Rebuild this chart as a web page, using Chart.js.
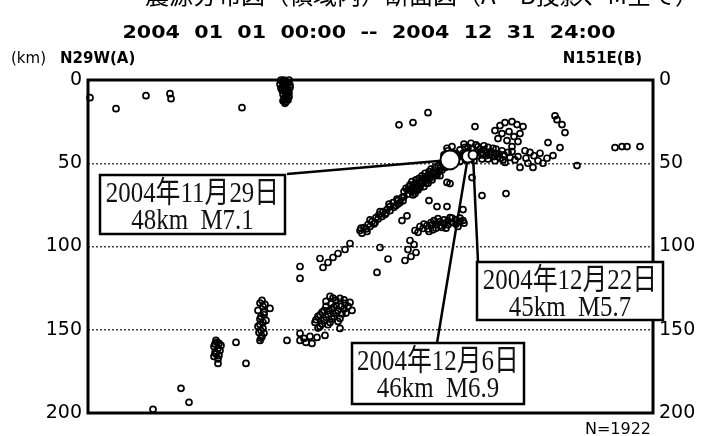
<!DOCTYPE html>
<html>
<head>
<meta charset="utf-8">
<script src="https://cdn.jsdelivr.net/npm/chart.js@4.4.0/dist/chart.umd.min.js"></script>
<style>
  html, body { margin: 0; padding: 0; background: #fff; }
  #wrap { width: 702px; height: 436px; }
</style>
</head>
<body>
<div id="wrap"><canvas id="profile" width="702" height="436"></canvas></div>
<script>
// A-B cross section: [distance from A (km), depth (km)]
const shallowQuakes = [
  [1, 10.6], [14, 17.2], [29, 9.4], [41, 8.2], [41.5, 11.2], [77, 16.6],
  [98, 0], [99, 1], [97, 1], [100, 1.5], [98.5, 2], [98, 3], [97.5, 4], [99.5, 4],
  [98.5, 5], [100, 6], [98, 6.5], [99, 7.5], [99.5, 9], [98.5, 10], [100.5, 10],
  [98, 11.5], [99, 13], [98.5, 14], [96.5, 0], [100.5, 0], [101, 3], [96, 2.5],
  [97, 6], [100.5, 7.5], [97.5, 8.5], [100, 12], [97.5, 12.5], [99.5, 11], [101, 4.5],
  [96.5, 5]
];

const upperQuakes = [
  [155.5, 26.9], [162.5, 25.6], [170, 19.6], [193.5, 28],
  [206, 27.4], [208.5, 25.6], [212, 25], [214.5, 26.8], [203.5, 30.4], [207, 32.2],
  [210.5, 31], [213, 34], [205, 35.2], [209.5, 36.4], [215, 37], [212, 40], [216, 32.2],
  [217.5, 28], [233.5, 21.5], [234.5, 23.8], [237, 26.8], [238.5, 31.6],
  [230, 37.6], [236, 40.6], [232.5, 45.4], [244.5, 51.4],
  [263.5, 40.6], [267, 40], [269.5, 40], [276, 40]
];

const slabTopQuakes = [
  [184, 44], [186, 42], [187, 46], [188.5, 40.5], [190, 43], [192, 41], [194, 43.5],
  [195, 40], [196.5, 44], [198, 42], [199, 45.5], [200, 40.5], [201.5, 43], [203, 46],
  [204, 41.5], [205.5, 44.5], [206, 47], [197, 47.5], [193, 48.5], [189, 48], [186, 49],
  [183.5, 45], [188, 38.5], [191.5, 38], [180, 42.5], [178, 45], [182, 40], [179.5, 41],
  [183, 47], [185, 45.5], [187.5, 44], [189.5, 45.5], [191, 44.5], [193, 46], [195, 45.5],
  [197.5, 45], [199.5, 43.5], [201, 45], [202.5, 41], [204, 44], [205, 46], [207, 42.5],
  [208, 45], [210, 43.5], [211, 46.5], [190, 40.5], [194, 39], [198, 39.5], [196, 41.5],
  [200, 47.5], [203.5, 48.5], [207.5, 48],
  [208.5, 49.5], [212, 43], [215, 46], [218.5, 42.5], [221, 43.5], [219, 47], [223, 45.5],
  [225, 48.5], [227.5, 50], [216, 52.5], [222.5, 52.5], [220, 50], [226, 44], [229.5, 47],
  [213.5, 48]
];

const band1Quakes = [
  [161, 63], [162, 61], [163.5, 62.5], [164, 60], [165.5, 59], [166, 61], [167, 57.5],
  [168.5, 56], [169, 58.5], [170.5, 55], [171.5, 53.5], [172.5, 55.5], [173.5, 52.5],
  [175, 51.5], [176, 53], [177, 50], [178, 51.5], [179, 49], [162.5, 64.5], [160.5, 64],
  [164.5, 63], [167.5, 59.5], [170, 57.5],
  [159, 65], [160, 66], [161.5, 65.5], [163, 65], [165, 64], [166.5, 62.5], [168, 61],
  [169.5, 60], [171, 59], [172.5, 58], [174, 56.5], [175.5, 55], [177, 54], [178.5, 52.5],
  [180, 51], [172, 60], [169, 62], [165, 66], [176, 57.5], [162, 67],
  [158, 67], [160, 68.5], [162.5, 69], [164, 66.5], [166, 64.5], [168, 64], [170, 62],
  [174.5, 57.4], [181, 62.2], [163.5, 68.2], [192, 58.6], [197, 69.4], [209, 68.2],
  [179.5, 61.5], [170.5, 72.4], [174.5, 76], [179.5, 76], [187.5, 77.8]
];

const band2Quakes = [
  [157, 70.6], [155, 72.4], [152.5, 73.6], [151, 76], [149.5, 77.8], [147.5, 79],
  [145.5, 80.8], [144, 82.6], [142, 85], [140, 86.8], [138, 88.6], [136, 90.4],
  [139.5, 91], [143.5, 85.6], [148.5, 80.8], [154, 75.4], [156, 73.6],
  [137, 92], [139, 89.5], [141, 88], [143, 86.5], [145, 83.5], [147, 82], [149, 80],
  [151, 78.5], [153, 76.5], [155, 74.5], [157.5, 72.5], [158, 70], [136.5, 89], [141, 84],
  [146, 79], [150.5, 74.5], [154.5, 71.5],
  [159.5, 81.6], [157, 84.4]
];

const band3Quakes = [
  [167.5, 89.2], [169.5, 87.4], [171.5, 85.6], [174, 86.8], [176, 85], [178, 86.2],
  [180, 84.4], [182, 85.6], [184, 83.8], [186, 85], [172.5, 90], [177, 88.6],
  [170.5, 91], [175, 83.2], [181, 82.6], [187.5, 84.4], [163.5, 90.4],
  [168, 86.5], [170, 89.5], [172, 87], [174, 89], [176, 87.5], [178, 84], [180, 87],
  [182, 83], [184, 86.5], [186, 83], [188, 86], [185, 88], [173, 84.5], [179, 89],
  [166, 88], [165, 91.5]
];

const midQuakes = [
  [131, 98.2], [146, 100.6], [161, 96.4], [163, 98.8], [160, 101.8], [164, 103.6],
  [161.5, 106], [150, 107.5], [158.5, 108.4], [125, 104.2], [128.5, 101.8],
  [116, 107.2], [120, 109.6], [117.5, 112.6], [122.5, 106.6], [106, 112], [106, 119.2],
  [144.5, 115.6]
];

const deepQuakes = [
  [87, 132.4], [88.5, 134.8], [85, 138.4], [88, 139.6], [86.5, 142], [89, 144.4],
  [86, 146.8], [87.5, 149.2], [85.5, 151.6], [87, 154], [86, 156.4], [91, 137.2],
  [86, 134], [87.5, 136], [88, 141], [86, 143.5], [87.5, 145.5], [86.5, 150.5],
  [88, 152], [85, 148], [86.5, 155],
  [121, 130], [124, 132.4], [126, 131.2], [128.5, 134.2], [131, 133.6], [119, 136],
  [122, 137.2], [125, 138.4], [117, 139.6], [120, 140.8], [123, 142], [115, 142],
  [118, 144.4], [121, 145.6], [113.5, 145.6], [116, 148], [126, 143.2], [132, 138.4],
  [126, 149.2], [124, 135.4], [129, 140],
  [119, 133], [121.5, 134.5], [123, 136.5], [126.5, 136], [128, 137.5], [130, 136],
  [118, 138.5], [120.5, 138.5], [124, 140], [127, 140.5], [116, 141], [119, 142.5],
  [122, 143.5], [125, 145], [114, 144], [117, 146.5], [120, 147], [115, 149],
  [128, 132], [122.5, 131],
  [106, 152.2], [108, 155.2], [111, 154], [109, 157.6], [112, 158.2], [114.5, 154.6],
  [118.5, 153.4], [106, 156.4], [99.5, 156.4],
  [64, 156.4], [65.5, 158.2], [63, 160], [65, 161.2], [66.5, 159.4], [63.5, 163.6],
  [65.5, 165.4], [63, 166], [65, 170.2], [64.5, 157.5], [66, 162.5], [64, 164.5],
  [63.5, 158.5], [65, 167.5], [74, 157.6], [79, 170.2],
  [46.5, 185.2], [50.5, 193.6], [32.5, 197.8]
];

// main shocks
const mainDist = [181, 190, 192.5];
const mainDepth = [48, 46, 45];
const mainMag = [7.1, 6.9, 5.7];
const mainDate = ["2004年11月29日", "2004年12月6日", "2004年12月22日"];

const depthTicks = [0, 50, 100, 150, 200];
const periodText = "2004  01  01  00:00  --  2004  12  31  24:00";
const countText = "N=1922";

const smallQuakes = [].concat(shallowQuakes, upperQuakes, slabTopQuakes, band1Quakes,
  band2Quakes, band3Quakes, midQuakes, deepQuakes).map(p => ({ x: p[0], y: p[1] }));
const mainQuakes = mainDist.map((d, i) => ({ x: d, y: mainDepth[i] }));

// label boxes, pixel layout
const boxes = [
  { left: 100, top: 175, w: 185, h: 59, from: [287, 174] },
  { left: 352, top: 343, w: 172, h: 61, from: [437, 343] },
  { left: 477, top: 262, w: 186, h: 58, from: [478, 262] }
];

const cjk = '"Noto Sans CJK JP", "Noto Sans CJK SC", sans-serif';

// draw text squeezed or stretched to a given width
function fitText(ctx, text, cx, y, width) {
  const w = ctx.measureText(text).width;
  ctx.save();
  ctx.translate(cx, y);
  ctx.scale(width / w, 1);
  ctx.textAlign = "center";
  ctx.fillText(text, 0, 0);
  ctx.restore();
}

const decorPlugin = {
  id: "decor",
  beforeDatasetsDraw(chart) {
    const { ctx, chartArea: a, scales } = chart;
    ctx.save();
    ctx.strokeStyle = "#000";
    ctx.lineWidth = 3;
    ctx.strokeRect(a.left, a.top, a.right - a.left, a.bottom - a.top);

    // leader lines from boxes to events
    ctx.lineWidth = 2.5;
    boxes.forEach((b, i) => {
      ctx.beginPath();
      ctx.moveTo(b.from[0], b.from[1]);
      ctx.lineTo(scales.x.getPixelForValue(mainDist[i]), scales.y.getPixelForValue(mainDepth[i]));
      ctx.stroke();
    });
    ctx.restore();
  },
  afterDatasetsDraw(chart) {
    const { ctx } = chart;
    ctx.save();
    boxes.forEach((b, i) => {
      ctx.fillStyle = "#fff";
      ctx.fillRect(b.left, b.top, b.w, b.h);
      ctx.strokeStyle = "#000";
      ctx.lineWidth = 2.5;
      ctx.strokeRect(b.left, b.top, b.w, b.h);
      ctx.fillStyle = "#111";
      ctx.font = '30px "Liberation Serif", ' + cjk;
      ctx.textAlign = "center";
      ctx.textBaseline = "alphabetic";
      const cx = b.left + b.w / 2;
      const lines = [mainDate[i], mainDepth[i] + "km  M" + mainMag[i].toFixed(1)];
      lines.forEach((t, j) => {
        ctx.save();
        ctx.translate(cx, b.top + (j === 0 ? 27 : 54));
        ctx.scale(0.83, 1);
        ctx.fillText(t, 0, 0);
        ctx.restore();
      });
    });
    ctx.restore();
  },
  afterDraw(chart) {
    const { ctx, chartArea: a } = chart;
    ctx.save();
    ctx.fillStyle = "#000";
    ctx.textBaseline = "alphabetic";

    // title line, cut off at the top of the picture
    ctx.font = "24px " + cjk;
    ctx.textAlign = "center";
    ctx.fillText("震源分布図（領域内）断面図（A－B投影、M全て）", 422, 4);

    ctx.font = 'bold 18px "DejaVu Sans"';
    fitText(ctx, periodText, 369, 38, 493);

    ctx.font = '15px "DejaVu Sans"';
    ctx.textAlign = "left";
    ctx.fillText("(km)", 11, 63);
    ctx.font = 'bold 15px "DejaVu Sans"';
    ctx.fillText("N29W(A)", 60, 63);
    ctx.textAlign = "right";
    ctx.fillText("N151E(B)", 642, 63);
    ctx.font = '16px "DejaVu Sans"';
    ctx.fillText(countText, a.right - 2, 434);
    ctx.restore();
  }
};

function depthAxis(side, width) {
  return {
    type: "linear",
    position: side,
    min: 0,
    max: 200,
    reverse: true,
    afterBuildTicks: s => { s.ticks = depthTicks.map(v => ({ value: v })); },
    afterFit: s => { s.width = width; },
    ticks: {
      color: "#000",
      padding: 6,
      font: { family: "DejaVu Sans", size: 19 }
    },
    grid: {
      display: side === "left",
      drawTicks: false,
      lineWidth: 1.5,
      color: c => (c.tick.value === 0 || c.tick.value === 200) ? "rgba(0,0,0,0)" : "#444"
    },
    border: { display: false, dash: [2, 2] }
  };
}

new Chart(document.getElementById("profile"), {
  type: "scatter",
  data: {
    datasets: [
      {
        label: "main",
        data: mainQuakes,
        order: 0,
        clip: false,
        pointRadius: mainMag.map(m => m >= 7 ? 9.5 : m >= 6.5 ? 6 : 4.5),
        pointBorderWidth: 2,
        pointBorderColor: "#000",
        pointBackgroundColor: "#fff"
      },
      {
        label: "quakes",
        data: smallQuakes,
        order: 1,
        clip: false,
        pointRadius: 3,
        pointBorderWidth: 1.7,
        pointBorderColor: "#000",
        pointBackgroundColor: "rgba(255,255,255,0)"
      }
    ]
  },
  options: {
    responsive: false,
    animation: false,
    devicePixelRatio: 1,
    layout: { padding: { top: 80, bottom: 23, left: 0, right: 0 } },
    plugins: { legend: { display: false }, tooltip: { enabled: false } },
    scales: {
      x: { type: "linear", min: 0, max: 282.5, display: false },
      y: depthAxis("left", 88),
      y2: depthAxis("right", 49)
    }
  },
  plugins: [decorPlugin]
});
</script>
</body>
</html>
